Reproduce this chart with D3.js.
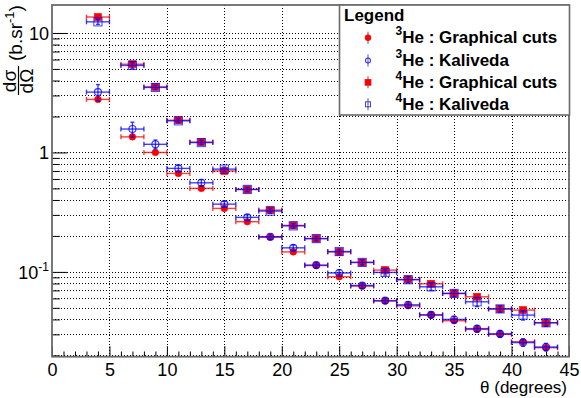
<!DOCTYPE html>
<html>
<head>
<meta charset="utf-8">
<script src="https://cdn.jsdelivr.net/npm/d3@7"></script>
<style>
  body { margin: 0; background: #fff; }
  svg { display: block; font-family: "Liberation Sans", Arial, Helvetica, sans-serif; }
</style>
</head>
<body>
<div class="container"></div>
<script>
const w = 581;
const h = 398;

// angle bins (degrees) and bin half width
const theta = [4, 7, 9, 11, 13, 15, 17, 19, 21, 23, 25, 27, 29, 31, 33, 35, 37, 39, 41, 43];
const thetaErr = [1, 1, 1, 1, 1, 1, 1, 1, 1, 1, 1, 1, 1, 1, 1, 1, 1, 1, 1, 1];

// dsigma/dOmega (b/sr)
const he3Cuts = [2.78, 1.35, 1.00, 0.667, 0.50, 0.34, 0.263, 0.195, 0.147, 0.113, 0.091, 0.076, 0.057, 0.052, 0.0435, 0.039, 0.033, 0.030, 0.026, 0.0232];
const he3CutsErr = [0.10, 0.05, 0.03, 0.02, 0.015, 0.01, 0.008, 0.006, 0.005, 0.004, 0.003, 0.003, 0.002, 0.002, 0.0017, 0.0015, 0.0013, 0.0012, 0.001, 0.001];
const he3Kali = [3.20, 1.57, 1.17, 0.735, 0.557, 0.369, 0.286, 0.197, 0.159, 0.114, 0.098, 0.077, 0.0575, 0.053, 0.0437, 0.040, 0.0335, 0.0303, 0.0256, 0.0235];
const he3KaliErr = [0.5, 0.22, 0.1, 0.05, 0.035, 0.02, 0.015, 0.01, 0.009, 0.006, 0.006, 0.004, 0.003, 0.003, 0.0025, 0.0025, 0.002, 0.002, 0.0018, 0.0017];
const he4Cuts = [13.6, 5.48, 3.54, 1.86, 1.22, 0.70, 0.49, 0.329, 0.245, 0.19, 0.147, 0.12, 0.1035, 0.0865, 0.0795, 0.066, 0.0619, 0.049, 0.0479, 0.0375];
const he4CutsErr = [0.4, 0.15, 0.1, 0.05, 0.035, 0.02, 0.014, 0.01, 0.007, 0.006, 0.005, 0.004, 0.003, 0.003, 0.0025, 0.002, 0.002, 0.0017, 0.0016, 0.0013];
const he4Kali = [12.4, 5.35, 3.50, 1.84, 1.21, 0.725, 0.49, 0.323, 0.243, 0.19, 0.148, 0.12, 0.099, 0.086, 0.075, 0.066, 0.0562, 0.049, 0.0435, 0.0375];
const he4KaliErr = [0.6, 0.3, 0.15, 0.07, 0.05, 0.03, 0.02, 0.014, 0.01, 0.008, 0.007, 0.006, 0.005, 0.005, 0.005, 0.004, 0.005, 0.003, 0.004, 0.0025];

// ticks
const xMajor = [0, 5, 10, 15, 20, 25, 30, 35, 40, 45];
const xMinor = [1, 2, 3, 4, 6, 7, 8, 9, 11, 12, 13, 14, 16, 17, 18, 19, 21, 22, 23, 24, 26, 27, 28, 29, 31, 32, 33, 34, 36, 37, 38, 39, 41, 42, 43, 44];
const yMajor = [0.1, 1, 10];
const yMajorLabels = [["10", "-1"], ["1", ""], ["10", ""]];
const yMinor = [0.02, 0.03, 0.04, 0.05, 0.06, 0.07, 0.08, 0.09, 0.2, 0.3, 0.4, 0.5, 0.6, 0.7, 0.8, 0.9, 2, 3, 4, 5, 6, 7, 8, 9];
const xGrid = [5, 10, 15, 20, 25, 30, 35, 40];

const legendTitle = "Legend";
const legendIso = ["3", "3", "4", "4"];
const legendText = ["He : Graphical cuts", "He : Kaliveda", "He : Graphical cuts", "He : Kaliveda"];

const frame = { left: 52, right: 569, top: 5, bottom: 356.7 };

const x = d3.scaleLinear().domain([0, 45]).range([frame.left, frame.right]);
const y = d3.scaleLog().domain([0.0195, 17.15]).range([frame.bottom, frame.top]);

const svg = d3.select('.container').append('svg')
  .attr('width', w)
  .attr('height', h);

svg.append('rect').attr('width', w).attr('height', h).attr('fill', '#fff');

// grid
const grid = svg.append('g').attr('class', 'grid')
  .attr('stroke', '#000')
  .attr('stroke-width', 1)
  .attr('stroke-dasharray', '1,2')
  .attr('shape-rendering', 'crispEdges');

grid.selectAll('.gy')
  .data(yMajor.concat(yMinor))
  .enter().append('line')
  .attr('x1', frame.left)
  .attr('x2', frame.right)
  .attr('y1', d => Math.round(y(d)) + 0.5)
  .attr('y2', d => Math.round(y(d)) + 0.5);

grid.selectAll('.gx')
  .data(xGrid)
  .enter().append('line')
  .attr('x1', d => Math.round(x(d)) + 0.5)
  .attr('x2', d => Math.round(x(d)) + 0.5)
  .attr('y1', frame.top)
  .attr('y2', frame.bottom);

// axes
const xAxis = svg.append('g')
  .attr('transform', `translate(0, ${frame.bottom})`)
  .call(d3.axisBottom(x).tickValues(xMajor).tickSize(-10.5).tickPadding(6.5).tickFormat(d3.format('d')));
xAxis.select('.domain').remove();
xAxis.selectAll('text').attr('font-size', 18).attr('fill', '#000').attr('font-family', null);
xAxis.selectAll('line').attr('stroke', '#000');

const xAxisMinor = svg.append('g')
  .attr('transform', `translate(0, ${frame.bottom})`)
  .call(d3.axisBottom(x).tickValues(xMinor).tickSize(-5.2).tickFormat(''));
xAxisMinor.select('.domain').remove();
xAxisMinor.selectAll('line').attr('stroke', '#000');

const yAxis = svg.append('g')
  .attr('transform', `translate(${frame.left}, 0)`)
  .call(d3.axisLeft(y).tickValues(yMajor).tickSize(-15.5).tickFormat(''));
yAxis.select('.domain').remove();
yAxis.selectAll('line').attr('stroke', '#000');

const yAxisMinor = svg.append('g')
  .attr('transform', `translate(${frame.left}, 0)`)
  .call(d3.axisLeft(y).tickValues(yMinor).tickSize(-7.8).tickFormat(''));
yAxisMinor.select('.domain').remove();
yAxisMinor.selectAll('line').attr('stroke', '#000');

// y tick labels with exponent
const yLab = svg.append('g').selectAll('text')
  .data(yMajor)
  .enter().append('text')
  .attr('x', 49)
  .attr('y', d => y(d) + 7)
  .attr('text-anchor', 'end')
  .attr('font-size', 18);
yLab.append('tspan').text((d, i) => yMajorLabels[i][0]);
yLab.append('tspan')
  .attr('dy', -8)
  .attr('font-size', 12)
  .text((d, i) => yMajorLabels[i][1]);

// frame
svg.append('rect')
  .attr('x', frame.left)
  .attr('y', frame.top)
  .attr('width', frame.right - frame.left)
  .attr('height', frame.bottom - frame.top)
  .attr('fill', 'none')
  .attr('stroke', '#6a6a6a')
  .attr('stroke-width', 1.8);

// axis titles
svg.append('text')
  .attr('x', 567)
  .attr('y', 393)
  .attr('text-anchor', 'end')
  .attr('font-size', 17)
  .text('θ (degrees)');

const yTitle = svg.append('g').attr('transform', 'translate(22, 97) rotate(-90)');
yTitle.append('text').attr('x', 16).attr('y', -6).attr('text-anchor', 'middle').attr('font-size', 19)
  .text('dσ');
yTitle.append('line').attr('x1', 2).attr('x2', 31).attr('y1', -3.5).attr('y2', -3.5).attr('stroke', '#000').attr('stroke-width', 1.2);
yTitle.append('text').attr('x', 16).attr('y', 11).attr('text-anchor', 'middle').attr('font-size', 19)
  .text('dΩ');
const yUnit = yTitle.append('text').attr('x', 36).attr('y', 0).attr('font-size', 19);
yUnit.append('tspan').text('(b.sr');
yUnit.append('tspan').attr('dy', -8).attr('font-size', 13).text('-1');
yUnit.append('tspan').attr('dy', 8).text(')');

// data series
const series = [
  { vals: he3Cuts, errs: he3CutsErr, color: '#ff0000', shape: 'circle', fill: true, size: 6.6 },
  { vals: he3Kali, errs: he3KaliErr, color: '#0000ff', shape: 'circle', fill: false, size: 8 },
  { vals: he4Cuts, errs: he4CutsErr, color: '#ff0000', shape: 'square', fill: true, size: 7 },
  { vals: he4Kali, errs: he4KaliErr, color: '#0000ff', shape: 'square', fill: false, size: 9.2 }
];

function drawMarker(g, shape, fill, color, size) {
  if (shape === 'circle') {
    g.append('circle')
      .attr('r', fill ? size / 2 : size / 2 - 0.5)
      .attr('fill', fill ? color : 'none')
      .attr('stroke', color)
      .attr('stroke-opacity', fill ? 1 : 0.8)
      .attr('stroke-width', fill ? 0.6 : 1.1);
  } else {
    g.append('rect')
      .attr('x', fill ? -size / 2 : -size / 2 + 0.5)
      .attr('y', fill ? -size / 2 : -size / 2 + 0.5)
      .attr('width', fill ? size : size - 1)
      .attr('height', fill ? size : size - 1)
      .attr('fill', fill ? color : 'none')
      .attr('stroke', color)
      .attr('stroke-opacity', fill ? 1 : 0.75)
      .attr('stroke-width', fill ? 0.6 : 1);
  }
}

series.forEach(s => {
  const g = svg.append('g');
  const pts = theta.map((t, i) => ({ t: t, dt: thetaErr[i], v: s.vals[i], e: s.errs[i] }));
  const bars = g.append('g')
    .attr('stroke', s.color)
    .attr('stroke-width', 1.4)
    .attr('stroke-opacity', 0.75);
  pts.forEach(p => {
    const px = x(p.t), py = y(p.v);
    const x0 = x(p.t - p.dt), x1 = x(p.t + p.dt);
    const y0 = y(p.v - p.e), y1 = y(p.v + p.e);
    bars.append('line').attr('x1', x0).attr('x2', x1).attr('y1', py).attr('y2', py);
    bars.append('line').attr('x1', x0).attr('x2', x0).attr('y1', py - 2.5).attr('y2', py + 2.5);
    bars.append('line').attr('x1', x1).attr('x2', x1).attr('y1', py - 2.5).attr('y2', py + 2.5);
    bars.append('line').attr('x1', px).attr('x2', px).attr('y1', y0).attr('y2', y1);
    bars.append('line').attr('x1', px - 2).attr('x2', px + 2).attr('y1', y0).attr('y2', y0);
    bars.append('line').attr('x1', px - 2).attr('x2', px + 2).attr('y1', y1).attr('y2', y1);
  });
  g.selectAll('.mk')
    .data(pts)
    .enter().append('g')
    .attr('transform', p => `translate(${x(p.t)}, ${y(p.v)})`)
    .each(function () {
      drawMarker(d3.select(this), s.shape, s.fill, s.color, s.size);
    });
});

// legend
const leg = svg.append('g');
leg.append('rect')
  .attr('x', 339.5)
  .attr('y', frame.top)
  .attr('width', 230)
  .attr('height', 110)
  .attr('fill', '#fff')
  .attr('stroke', '#6a6a6a')
  .attr('stroke-width', 1.6);
leg.append('text')
  .attr('x', 344)
  .attr('y', 21)
  .attr('font-size', 17)
  .attr('font-weight', 'bold')
  .text(legendTitle);

const legRows = [37.7, 60.5, 82.3, 104.3];
series.forEach((s, i) => {
  const row = leg.append('g').attr('transform', `translate(368, ${legRows[i]})`);
  row.append('line').attr('x1', 0).attr('x2', 0).attr('y1', -6).attr('y2', 6)
    .attr('stroke', '#888').attr('stroke-width', 1.4);
  drawMarker(row, s.shape, s.fill, s.color, 6);
  const t = leg.append('text')
    .attr('x', 395.5)
    .attr('y', legRows[i] + 5.5)
    .attr('font-size', 17)
    .attr('font-weight', 'bold');
  t.append('tspan').attr('dy', -8).attr('font-size', 12).text(legendIso[i]);
  t.append('tspan').attr('dy', 8).text(legendText[i]);
});
</script>
</body>
</html>
